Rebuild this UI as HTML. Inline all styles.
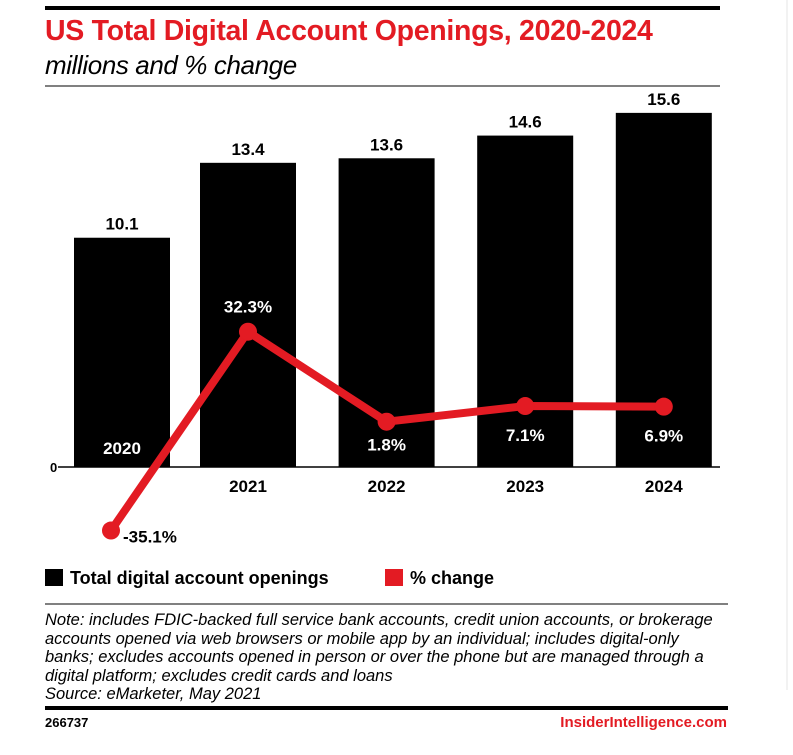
<!DOCTYPE html>
<html><head><meta charset="utf-8"><style>
body{margin:0;background:#fff;width:793px;height:755px;overflow:hidden;font-family:"Liberation Sans",sans-serif;}
svg{position:absolute;left:0;top:0}
</style></head><body>
<svg width="793" height="755">
<rect x="45" y="6" width="675" height="4" fill="#000"/>
<line x1="787" y1="0" x2="787" y2="690" stroke="#e4e4e4"/>
<text x="45" y="40" font-size="28.5" font-weight="bold" fill="#e31b23" letter-spacing="-0.3">US Total Digital Account Openings, 2020-2024</text>
<text x="45" y="74" font-size="26" font-style="italic" fill="#000" letter-spacing="-0.4">millions and % change</text>
<line x1="45" y1="86" x2="720" y2="86" stroke="#000" stroke-width="1"/>
<g id="bars"></g>
<line x1="58" y1="467" x2="720" y2="467" stroke="#000" stroke-width="1.5"/>
<text x="50" y="472" font-size="13" font-weight="bold">0</text>
<g id="line"></g>
<rect x="45" y="569" width="18" height="17" fill="#000"/>
<text x="70" y="584" font-size="18" font-weight="bold">Total digital account openings</text>
<rect x="385" y="569" width="18" height="17" fill="#e31b23"/>
<text x="410" y="584" font-size="18" font-weight="bold">% change</text>
<line x1="45" y1="604" x2="728" y2="604" stroke="#000" stroke-width="1"/>
<g font-size="16.5" font-style="italic">
<text x="45" y="625">Note: includes FDIC-backed full service bank accounts, credit union accounts, or brokerage</text>
<text x="45" y="644">accounts opened via web browsers or mobile app by an individual; includes digital-only</text>
<text x="45" y="662">banks; excludes accounts opened in person or over the phone but are managed through a</text>
<text x="45" y="681">digital platform; excludes credit cards and loans</text>
<text x="45" y="699">Source: eMarketer, May 2021</text>
</g>
<rect x="45" y="706" width="683" height="4" fill="#000"/>
<text x="45" y="727" font-size="13" font-weight="bold">266737</text>
<text x="727" y="727" font-size="15" font-weight="bold" fill="#e31b23" text-anchor="end">InsiderIntelligence.com</text>
</svg>
<script>
const years=["2020","2021","2022","2023","2024"];
const openings=[10.1,13.4,13.6,14.6,15.6];
const change=[-35.1,32.3,1.8,7.1,6.9];
const NS="http://www.w3.org/2000/svg";
const xC=i=>i==0?122:248+(i-1)*138.6;
const xP=i=>i==0?111:xC(i);
const yB=v=>467-v*22.7;
const yP=v=>427-v*2.95;
function mk(t,a,p,txt){const e=document.createElementNS(NS,t);for(const k in a)e.setAttribute(k,a[k]);if(txt!=null)e.textContent=txt;p.appendChild(e);return e;}
const gb=document.getElementById('bars'),gl=document.getElementById('line');
openings.forEach((v,i)=>{
 const r=mk('rect',{x:xC(i)-48,y:yB(v),width:96,height:467-yB(v),fill:'#000'},gb);
 
 
 const t=mk('text',{x:xC(i),y:yB(v)-8,'font-size':17,'font-weight':'bold','text-anchor':'middle'},gb,v.toFixed(1));
 
 
 const yl=i==0?mk('text',{x:xC(i),y:454,'font-size':17,'font-weight':'bold','text-anchor':'middle',fill:'#fff'},gb,years[i]):mk('text',{x:xC(i),y:492,'font-size':17,'font-weight':'bold','text-anchor':'middle'},gb,years[i]);
 
 
});
const pts=change.map((v,i)=>xP(i)+','+yP(v)).join(' ');
const pl=mk('polyline',{points:pts,fill:'none',stroke:'#e31b23','stroke-width':8,'stroke-linejoin':'round'},gl);


change.forEach((v,i)=>{
 const c=mk('circle',{cx:xP(i),cy:yP(v),r:9,fill:'#e31b23'},gl);
 
 
 let a;
 if(i==0)a={x:xP(i)+12,y:yP(v)+12,fill:'#000','text-anchor':'start'};
 else if(i==1)a={x:xP(i),y:yP(v)-19,fill:'#fff','text-anchor':'middle'};
 else if(i==2)a={x:xP(i),y:yP(v)+29,fill:'#fff','text-anchor':'middle'};
 else a={x:xP(i),y:yP(v)+35,fill:'#fff','text-anchor':'middle'};
 a['font-size']=17;a['font-weight']='bold';
 const t=mk('text',a,gl,v.toFixed(1)+'%');
 
 
});
</script>
</body></html>
